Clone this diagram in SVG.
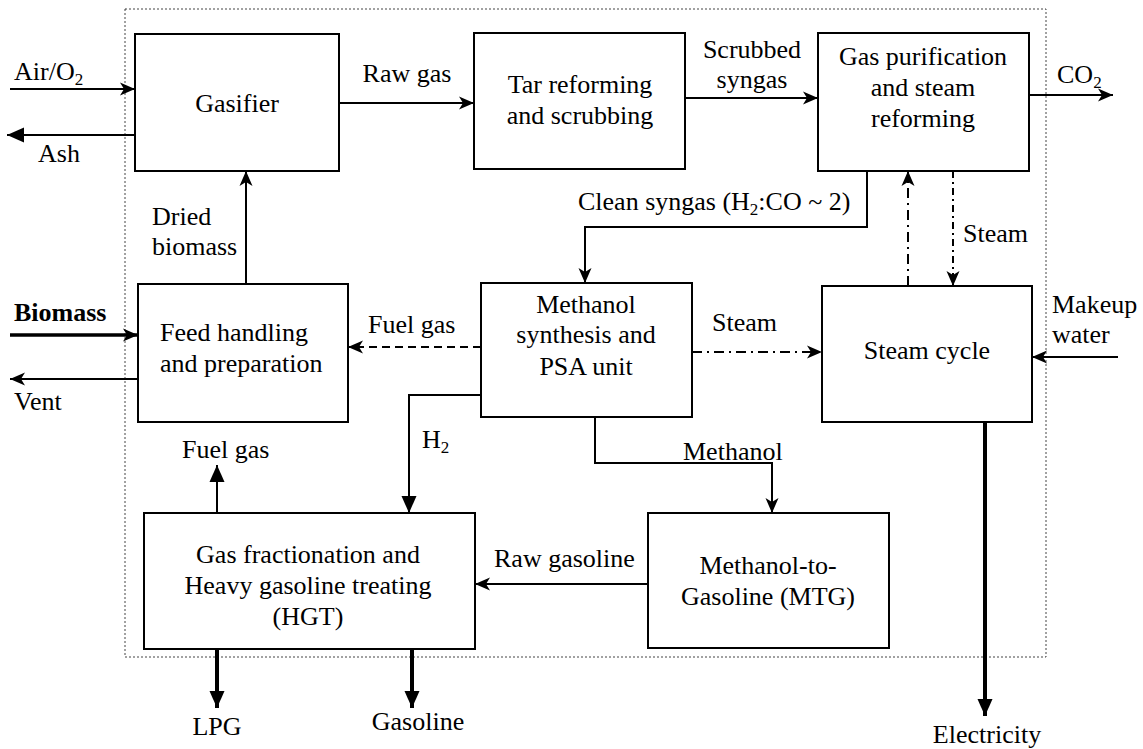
<svg xmlns="http://www.w3.org/2000/svg" width="1143" height="749" viewBox="0 0 1143 749" font-family="'Liberation Serif', 'Times New Roman', serif">
<style>
text{font-family:'Liberation Serif','Times New Roman',serif;font-size:26px;fill:#000}
.m{text-anchor:middle}
.box{fill:#fff;stroke:#000;stroke-width:2}
.ln{fill:none;stroke:#000;stroke-width:2}
.thick{fill:none;stroke:#000;stroke-width:4}
.dash{stroke-dasharray:8,5}
.dd{stroke-dasharray:10,5,2,5}
.dd2{stroke-dasharray:7,4,2,4}
.sub{font-size:17px}
</style>
<defs>
<marker id="barb" viewBox="0 -7 15 14" refX="15" refY="0" markerWidth="15" markerHeight="14" markerUnits="userSpaceOnUse" orient="auto">
<path d="M0,-6.5 L15,0 L0,6.5 L4,0 Z" fill="#000"/>
</marker>
<marker id="tri" viewBox="0 -8 17 16" refX="17" refY="0" markerWidth="17" markerHeight="16" markerUnits="userSpaceOnUse" orient="auto">
<path d="M0,-7.5 L17,0 L0,7.5 Z" fill="#000"/>
</marker>
</defs>
<rect x="125" y="9" width="921" height="648" fill="none" stroke="#444" stroke-width="1" stroke-dasharray="2,2"/>
<g id="connectors">
<line class="ln" x1="10" y1="89" x2="135" y2="89" marker-end="url(#barb)"/>
<line class="ln" x1="135" y1="135" x2="7" y2="135" marker-end="url(#tri)"/>
<line class="thick" x1="10" y1="335" x2="138" y2="335" style="stroke-width:3.5" marker-end="url(#barb)"/>
<line class="ln" x1="138" y1="379" x2="10" y2="379" marker-end="url(#barb)"/>
<line class="ln" x1="246" y1="284" x2="246" y2="171" marker-end="url(#barb)"/>
<line class="ln" x1="339" y1="103" x2="474" y2="103" marker-end="url(#barb)"/>
<line class="ln" x1="685" y1="98" x2="818" y2="98" marker-end="url(#barb)"/>
<line class="ln" x1="1029" y1="95" x2="1113" y2="95" marker-end="url(#barb)"/>
<path class="ln" d="M867,171 V227 H585 V283" marker-end="url(#barb)"/>
<line class="ln dash" x1="481" y1="347" x2="348" y2="347" marker-end="url(#barb)"/>
<line class="ln dd" x1="692" y1="352" x2="822" y2="352" marker-end="url(#barb)"/>
<line class="ln dd" x1="908" y1="286" x2="908" y2="171" marker-end="url(#barb)"/>
<line class="ln dd2" x1="953" y1="171" x2="953" y2="286" marker-end="url(#barb)"/>
<line class="ln" x1="1118" y1="357" x2="1032" y2="357" marker-end="url(#barb)"/>
<line class="thick" x1="985" y1="422" x2="985" y2="716" marker-end="url(#tri)"/>
<path class="ln" d="M481,395 H409 V513" marker-end="url(#tri)"/>
<line class="ln" x1="217" y1="513" x2="217" y2="465" marker-end="url(#tri)"/>
<path class="ln" d="M595,417 V463 H772 V513" marker-end="url(#barb)"/>
<line class="ln" x1="648" y1="584" x2="475" y2="584" marker-end="url(#barb)"/>
<line class="thick" x1="217" y1="649" x2="217" y2="708" marker-end="url(#tri)"/>
<line class="thick" x1="412" y1="649" x2="412" y2="708" marker-end="url(#tri)"/>
</g>
<g id="gasifier">
<rect class="box" x="135" y="34" width="204" height="137"/>
<text class="m" x="237" y="112">Gasifier</text>
</g>
<g id="tar">
<rect class="box" x="474" y="33" width="211" height="136"/>
<text class="m" x="580" y="93">Tar reforming</text>
<text class="m" x="580" y="124">and scrubbing</text>
</g>
<g id="gaspur">
<rect class="box" x="818" y="33" width="211" height="138"/>
<text class="m" x="923" y="65">Gas purification</text>
<text class="m" x="923" y="96">and steam</text>
<text class="m" x="923" y="127">reforming</text>
</g>
<g id="feed">
<rect class="box" x="138" y="284" width="210" height="138"/>
<text x="160" y="341">Feed handling</text>
<text x="160" y="372">and preparation</text>
</g>
<g id="methanol">
<rect class="box" x="481" y="283" width="211" height="134"/>
<text class="m" x="586" y="313">Methanol</text>
<text class="m" x="586" y="343">synthesis and</text>
<text class="m" x="586" y="375">PSA unit</text>
</g>
<g id="steamcycle">
<rect class="box" x="822" y="286" width="210" height="136"/>
<text class="m" x="927" y="359">Steam cycle</text>
</g>
<g id="hgt">
<rect class="box" x="144" y="513" width="331" height="136"/>
<text class="m" x="308" y="563">Gas fractionation and</text>
<text class="m" x="308" y="594">Heavy gasoline treating</text>
<text class="m" x="308" y="625">(HGT)</text>
</g>
<g id="mtg">
<rect class="box" x="648" y="513" width="241" height="135"/>
<text class="m" x="768" y="574">Methanol-to-</text>
<text class="m" x="768" y="605">Gasoline (MTG)</text>
</g>
<g id="labels">
<text x="14" y="80">Air/O<tspan class="sub" dy="5">2</tspan></text>
<text x="38" y="162">Ash</text>
<text x="14" y="321" font-weight="bold">Biomass</text>
<text x="14" y="410">Vent</text>
<text x="152" y="225">Dried</text>
<text x="152" y="255">biomass</text>
<text class="m" x="407" y="82">Raw gas</text>
<text class="m" x="752" y="58">Scrubbed</text>
<text class="m" x="752" y="88">syngas</text>
<text x="1057" y="83">CO<tspan class="sub" dy="5">2</tspan></text>
<text x="578" y="210">Clean syngas (H<tspan class="sub" dy="5">2</tspan><tspan dy="-5">:CO ~ 2)</tspan></text>
<text x="963" y="242">Steam</text>
<text x="368" y="333">Fuel gas</text>
<text x="712" y="331">Steam</text>
<text x="1052" y="313">Makeup</text>
<text x="1052" y="343">water</text>
<text class="m" x="987" y="743">Electricity</text>
<text x="182" y="458">Fuel gas</text>
<text x="422" y="448">H<tspan class="sub" dy="5">2</tspan></text>
<text x="683" y="460">Methanol</text>
<text x="494" y="567">Raw gasoline</text>
<text class="m" x="217" y="735">LPG</text>
<text class="m" x="418" y="730">Gasoline</text>
</g>
</svg>
